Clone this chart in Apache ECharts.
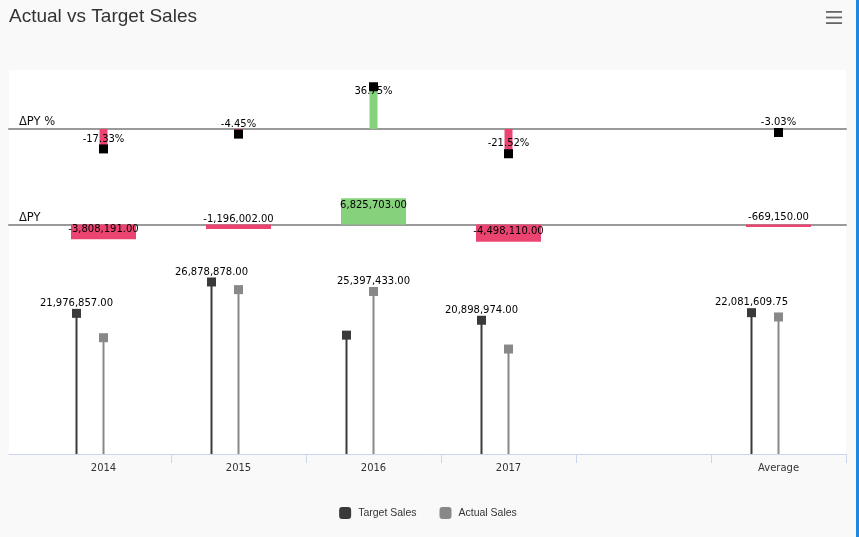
<!DOCTYPE html>
<html>
<head>
<meta charset="utf-8">
<script src="https://cdn.jsdelivr.net/npm/echarts@6/dist/echarts.min.js"></script>
<style>
html,body{margin:0;padding:0;background:#1e88e5;overflow:hidden;}
#chart{width:856px;height:537px;}
</style>
</head>
<body>
<div id="chart"></div>
<script>
// ---- data ----
const categories = ['2014', '2015', '2016', '2017', '', 'Average'];
const targetSales = [21976857, 26878878, 18571730, 20898974, null, 22081609.75];
const actualSales = [18168666, 25682876, 25397433, 16400864, null, 21412459.75];
const deltaPY = [-3808191, -1196002, 6825703, -4498110, null, -669150];
const deltaPYPct = [-17.33, -4.45, 36.75, -21.52, null, -3.03];
const seriesNames = ['Target Sales', 'Actual Sales'];

// ---- styling ----
const FONT = 'DejaVu Sans';
const PINK = '#ec4470', GREEN = '#86d27c';
const TARGET_COLOR = '#3a3a3a', ACTUAL_COLOR = '#888888';
const TARGET_SHIFT = -0.2; // point placement of the target series inside its category

const fmt = v => v.toLocaleString('en-US', {minimumFractionDigits: 2, maximumFractionDigits: 2});
const labelBase = {fontFamily: FONT, fontSize: 10, color: '#000'};

const idx = categories.map((c, i) => i);
const tickValues = idx.map(i => i + 0.5);

function xAxisFor(gridIndex, extra) {
  return Object.assign({
    type: 'value', gridIndex: gridIndex, min: -0.7, max: 5.5,
    splitLine: {show: false}, axisTick: {show: false}, axisLabel: {show: false},
    axisLine: {show: true, onZero: true, lineStyle: {color: '#9a9a9a', width: 2}},
    z: 1
  }, extra || {});
}

// ΔPY % data
const pctBars = [], pctMarks = [];
deltaPYPct.forEach((v, i) => {
  if (v == null) return;
  pctBars.push({value: [i, v], itemStyle: {color: v < 0 ? PINK : GREEN}});
  pctMarks.push({value: [i, v], label: {offset: [0, v < 0 ? -10 : 5]}});
});
// ΔPY data
const dBars = [];
deltaPY.forEach((v, i) => {
  if (v == null) return;
  dBars.push({
    value: [i, v],
    itemStyle: {color: v < 0 ? PINK : GREEN},
    label: v < 0 ? {position: 'insideBottom', distance: 5} : {position: 'insideTop', distance: 2}
  });
});
// lollipops
const tStem = [], tMark = [], aStem = [], aMark = [];
categories.forEach((c, i) => {
  const t = targetSales[i], a = actualSales[i];
  if (t != null) {
    tStem.push([i + TARGET_SHIFT, t]);
    tMark.push({value: [i + TARGET_SHIFT, t], label: {show: t >= a}});
  }
  if (a != null) {
    aStem.push([i, a]);
    aMark.push({value: [i, a], label: {show: a > t}});
  }
});

const chart = echarts.init(document.getElementById('chart'));
chart.setOption({
  backgroundColor: '#f9f9f9',
  animation: false,
  title: [
    {text: 'Actual vs Target Sales', left: 9, top: 7, padding: 0,
     textStyle: {fontFamily: 'Liberation Sans', fontSize: 19, fontWeight: 'normal', color: '#333'}},
    {text: 'ΔPY %', left: 19, top: 116, padding: 0,
     textStyle: {fontFamily: FONT, fontSize: 11.5, fontWeight: 'normal', color: '#111'}},
    {text: 'ΔPY', left: 19, top: 212, padding: 0,
     textStyle: {fontFamily: FONT, fontSize: 11.5, fontWeight: 'normal', color: '#111'}}
  ],
  graphic: [{
    type: 'group', right: 14, top: 11,
    children: [
      {type: 'rect', shape: {x: 0, y: 0, width: 16, height: 1.8}, style: {fill: '#666'}},
      {type: 'rect', shape: {x: 0, y: 5.6, width: 16, height: 1.8}, style: {fill: '#666'}},
      {type: 'rect', shape: {x: 0, y: 11.2, width: 16, height: 1.8}, style: {fill: '#666'}}
    ]
  }],
  legend: {
    data: seriesNames, top: 502, left: 'center', icon: 'roundRect',
    itemWidth: 12, itemHeight: 12, itemGap: 23,
    textStyle: {fontFamily: 'Liberation Sans', fontSize: 10.5, color: '#333', padding: [0, 0, 0, 2]}
  },
  grid: [
    {left: 9, right: 10, top: 83, height: 92},
    {left: 9, right: 10, top: 186, height: 77},
    {left: 9, right: 10, top: 70, bottom: 83, show: true, backgroundColor: '#ffffff', borderWidth: 0, z: 0}
  ],
  xAxis: [
    xAxisFor(0),
    xAxisFor(1),
    xAxisFor(2, {
      axisLine: {show: true, onZero: false, lineStyle: {color: '#ccd6eb', width: 1}},
      axisTick: {show: true, customValues: tickValues, length: 9, lineStyle: {color: '#ccd6eb'}},
      axisLabel: {show: true, customValues: idx, margin: 9, fontFamily: FONT, fontSize: 10, color: '#333',
                  formatter: v => categories[Math.round(v)]}
    })
  ],
  yAxis: [
    {type: 'value', gridIndex: 0, min: -40, max: 40, show: false},
    {type: 'value', gridIndex: 1, min: -10000000, max: 10000000, show: false},
    {type: 'value', gridIndex: 2, min: 0, max: 60000000, show: false}
  ],
  series: [
    {type: 'bar', name: 'ΔPY %', xAxisIndex: 0, yAxisIndex: 0, barWidth: 8, data: pctBars},
    {type: 'scatter', name: 'ΔPY % marker', xAxisIndex: 0, yAxisIndex: 0, symbol: 'rect', symbolSize: 9,
     itemStyle: {color: '#000', opacity: 1}, data: pctMarks,
     label: Object.assign({show: true, position: 'inside', formatter: p => p.value[1].toFixed(2) + '%'}, labelBase)},
    {type: 'bar', name: 'ΔPY', xAxisIndex: 1, yAxisIndex: 1, barWidth: 65, data: dBars,
     label: Object.assign({show: true, formatter: p => fmt(p.value[1])}, labelBase)},
    {type: 'bar', name: seriesNames[0], xAxisIndex: 2, yAxisIndex: 2, barWidth: 2, barGap: '-100%',
     itemStyle: {color: TARGET_COLOR}, data: tStem},
    {type: 'bar', name: seriesNames[1], xAxisIndex: 2, yAxisIndex: 2, barWidth: 2, barGap: '-100%',
     itemStyle: {color: ACTUAL_COLOR}, data: aStem},
    {type: 'scatter', name: seriesNames[0], xAxisIndex: 2, yAxisIndex: 2, symbol: 'rect', symbolSize: 9,
     itemStyle: {color: TARGET_COLOR, opacity: 1}, data: tMark,
     label: Object.assign({position: 'inside', offset: [0, -10], formatter: p => fmt(p.value[1])}, labelBase)},
    {type: 'scatter', name: seriesNames[1], xAxisIndex: 2, yAxisIndex: 2, symbol: 'rect', symbolSize: 9,
     itemStyle: {color: ACTUAL_COLOR, opacity: 1}, data: aMark,
     label: Object.assign({position: 'inside', offset: [0, -10], formatter: p => fmt(p.value[1])}, labelBase)}
  ]
});
</script>
</body>
</html>
